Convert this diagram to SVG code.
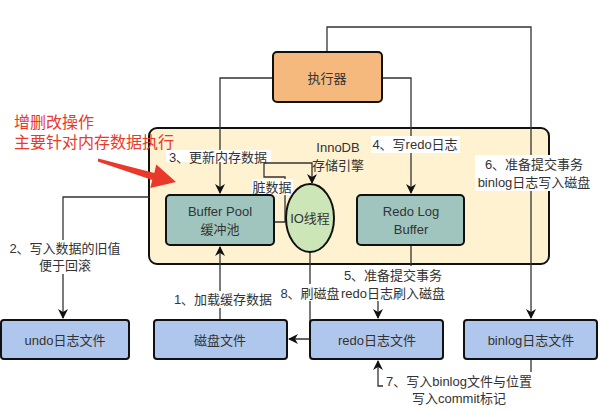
<svg xmlns="http://www.w3.org/2000/svg" width="607" height="411" viewBox="0 0 607 411">
<defs>
<style>
text{font-family:"Liberation Sans","Noto Sans CJK SC",sans-serif;font-size:13px;fill:#333;text-anchor:middle;dominant-baseline:central}
.box{stroke:#111;stroke-width:2}
.file{fill:#AFC7EC}
.mem{fill:#9FC5BE}
.ln{fill:none;stroke:#333;stroke-width:1.3}
.lbl{fill:#fff}
.red{fill:#E8392B;font-size:16px;text-anchor:start}
</style>
<marker id="ah" markerWidth="10" markerHeight="10" refX="9" refY="5" orient="auto" markerUnits="userSpaceOnUse">
<path d="M0,0 L10,5 L0,10 L3,5 Z" fill="#111"/>
</marker>
</defs>
<rect width="607" height="411" fill="#fff"/>
<g id="innodb">
<rect class="box" x="149" y="128" width="400" height="136" rx="8" fill="#FEF2D0"/>
<text x="338" y="147">InnoDB</text>
<text x="338" y="165">存储引擎</text>
</g>
<g id="connectors">
<path class="ln" d="M327,52 V27 H531 V318" marker-end="url(#ah)"/>
<path class="ln" d="M273,78 H220 V193" marker-end="url(#ah)"/>
<path class="ln" d="M382,78 H411 V193" marker-end="url(#ah)"/>
<path class="ln" d="M274,222 H285 V177 H264 V163 H312 V183" marker-end="url(#ah)"/>
<path class="ln" d="M149,197 H63 V318" marker-end="url(#ah)"/>
<path class="ln" d="M220,320 V247" marker-end="url(#ah)"/>
<path class="ln" d="M310,252 V339 H289" marker-end="url(#ah)"/>
<path class="ln" d="M411,245 V284 H378 V318" marker-end="url(#ah)"/>
<path class="ln" d="M531,359 V386 H378 V361" marker-end="url(#ah)"/>
</g>
<g id="labels">
<rect class="lbl" x="166" y="150" width="105" height="12"/>
<text x="218" y="157">3、更新内存数据</text>
<rect class="lbl" x="252" y="179" width="41" height="16"/>
<text x="272" y="187">脏数据</text>
<rect class="lbl" x="371" y="136" width="89" height="17"/>
<text x="415" y="144">4、写redo日志</text>
<rect class="lbl" x="475" y="155" width="118" height="36"/>
<text x="534" y="164">6、准备提交事务</text>
<text x="534" y="182">binlog日志写入磁盘</text>
<rect class="lbl" x="6" y="240" width="119" height="34"/>
<text x="65" y="248">2、写入数据的旧值</text>
<text x="65" y="265">便于回滚</text>
<rect class="lbl" x="171" y="291" width="104" height="17"/>
<text x="223" y="299">1、加载缓存数据</text>
<rect class="lbl" x="277" y="284" width="65" height="17"/>
<text x="310" y="293">8、刷磁盘</text>
<rect class="lbl" x="343" y="266" width="102" height="35"/>
<text x="393" y="275">5、准备提交事务</text>
<text x="393" y="293">redo日志刷入磁盘</text>
<rect class="lbl" x="383" y="372" width="152" height="36"/>
<text x="459" y="381">7、写入binlog文件与位置</text>
<text x="459" y="398">写入commit标记</text>
</g>
<g id="executor">
<rect class="box" x="273" y="52" width="109" height="50" rx="4" fill="#F5B97E"/>
<text x="327" y="78">执行器</text>
</g>
<g id="bufferpool">
<rect class="box mem" x="166" y="195" width="108" height="50" rx="4"/>
<text x="220" y="211">Buffer Pool</text>
<text x="220" y="229">缓冲池</text>
</g>
<g id="iothread">
<ellipse class="box" cx="310" cy="218" rx="24" ry="34" fill="#CDE6B8"/>
<text x="310" y="218">IO线程</text>
</g>
<g id="redologbuffer">
<rect class="box mem" x="357" y="195" width="107" height="50" rx="4"/>
<text x="411" y="211">Redo Log</text>
<text x="411" y="229">Buffer</text>
</g>
<g id="undo">
<rect class="box file" x="1" y="320" width="128" height="39" rx="3"/>
<text x="65" y="340">undo日志文件</text>
</g>
<g id="disk">
<rect class="box file" x="154" y="320" width="133" height="39" rx="3"/>
<text x="220" y="340">磁盘文件</text>
</g>
<g id="redofile">
<rect class="box file" x="310" y="320" width="133" height="39" rx="3"/>
<text x="377" y="340">redo日志文件</text>
</g>
<g id="binlog">
<rect class="box file" x="464" y="320" width="133" height="39" rx="3"/>
<text x="531" y="340">binlog日志文件</text>
</g>
<g id="note">
<text class="red" x="14" y="122">增删改操作</text>
<text class="red" x="14" y="142">主要针对内存数据执行</text>
<polygon points="98.3,158.5 154.3,173 156.3,164.5 176,182 150.3,188 152.3,180 97.7,161.5" fill="#E8392B"/>
</g>
</svg>
